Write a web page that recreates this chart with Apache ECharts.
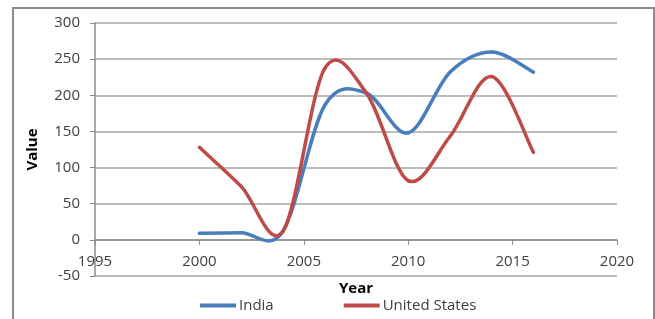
<!DOCTYPE html>
<html>
<head>
<meta charset="utf-8">
<script src="https://cdn.jsdelivr.net/npm/echarts@6/dist/echarts.min.js"></script>
<style>
  html, body { margin: 0; padding: 0; background: #fff; }
  #main { width: 655px; height: 319px; }
  .frame {
    position: absolute; left: 12px; top: 7px; width: 639px; height: 330px;
    border: 2px solid #8c8c8c; pointer-events: none;
  }
</style>
</head>
<body>
<div id="main"></div>
<div class="frame"></div>
<script>
const years = [2000, 2002, 2004, 2006, 2008, 2010, 2012, 2014, 2016];
const india = [9, 10, 12, 186, 203, 148, 232, 260, 232];
const unitedStates = [128, 74, 12, 237, 203, 82, 143, 226, 121];

const textColor = "#404040";
const font = "'Open Sans', sans-serif";

// smooth curve like the spreadsheet one (Catmull-Rom through the points)
function smoothItem(params, api) {
  const i = params.dataIndexInside;
  const n = params.dataInsideLength;
  if (i >= n - 1) return null;
  const pt = (k) => api.coord([api.value(0, k), api.value(1, k)]);
  const p1 = pt(i);
  const p2 = pt(i + 1);
  const p0 = i > 0 ? pt(i - 1) : p1;
  const p3 = i + 2 < n ? pt(i + 2) : p2;
  return {
    type: "bezierCurve",
    shape: {
      x1: p1[0], y1: p1[1],
      x2: p2[0], y2: p2[1],
      cpx1: p1[0] + (p2[0] - p0[0]) / 6,
      cpy1: p1[1] + (p2[1] - p0[1]) / 6,
      cpx2: p2[0] - (p3[0] - p1[0]) / 6,
      cpy2: p2[1] - (p3[1] - p1[1]) / 6,
    },
    style: { stroke: api.visual("color"), lineWidth: 3.5, fill: null, lineCap: "round" },
  };
}

const myChart = echarts.init(document.getElementById("main"));
const option = {
  backgroundColor: "#fff",
  animation: false,
  grid: {
    left: 95,
    right: 38,
    top: 23,
    bottom: 43,
    outerBoundsMode: "none",
  },
  legend: {
    left: 195,
    top: 293,
    itemGap: 70,
    icon: "rect",
    itemWidth: 36,
    itemHeight: 4,
    textStyle: { color: textColor, fontSize: 15, fontFamily: font, padding: [0, 0, 0, -2] },
    data: ["India", "United States"],
  },
  xAxis: {
    type: "value",
    min: 1995,
    max: 2020,
    interval: 5,
    offset: -36, // axis sits on the zero line
    name: "Year",
    nameLocation: "middle",
    nameGap: 41,
    nameTextStyle: { color: "#000", fontWeight: "bold", fontSize: 15, fontFamily: font },
    axisLine: { onZero: false, lineStyle: { color: "#8c8c8c", width: 1.5 } },
    axisTick: { show: true, length: 5, lineStyle: { color: "#8c8c8c" } },
    axisLabel: { color: textColor, fontSize: 15, fontFamily: font, margin: 14, formatter: (v) => String(v) },
    splitLine: { show: false },
  },
  yAxis: {
    type: "value",
    min: -50,
    max: 300,
    interval: 50,
    name: "Value",
    nameLocation: "middle",
    nameGap: 55,
    nameTextStyle: { color: "#000", fontWeight: "bold", fontSize: 15, fontFamily: font },
    axisLine: { show: true, lineStyle: { color: "#8c8c8c", width: 1.5 } },
    axisTick: { show: true, length: 5, lineStyle: { color: "#8c8c8c" } },
    axisLabel: { color: textColor, fontSize: 15, fontFamily: font, margin: 15 },
    splitLine: { show: true, lineStyle: { color: "#a6a6a6", width: 1.5 } },
  },
  series: [
    {
      name: "India",
      type: "custom",
      renderItem: smoothItem,
      itemStyle: { color: "#4a7ebb" },
      encode: { x: 0, y: 1 },
      data: years.map((y, i) => [y, india[i]]),
    },
    {
      name: "United States",
      type: "custom",
      renderItem: smoothItem,
      itemStyle: { color: "#be4b48" },
      encode: { x: 0, y: 1 },
      data: years.map((y, i) => [y, unitedStates[i]]),
    },
  ],
};
myChart.setOption(option);
</script>
</body>
</html>
